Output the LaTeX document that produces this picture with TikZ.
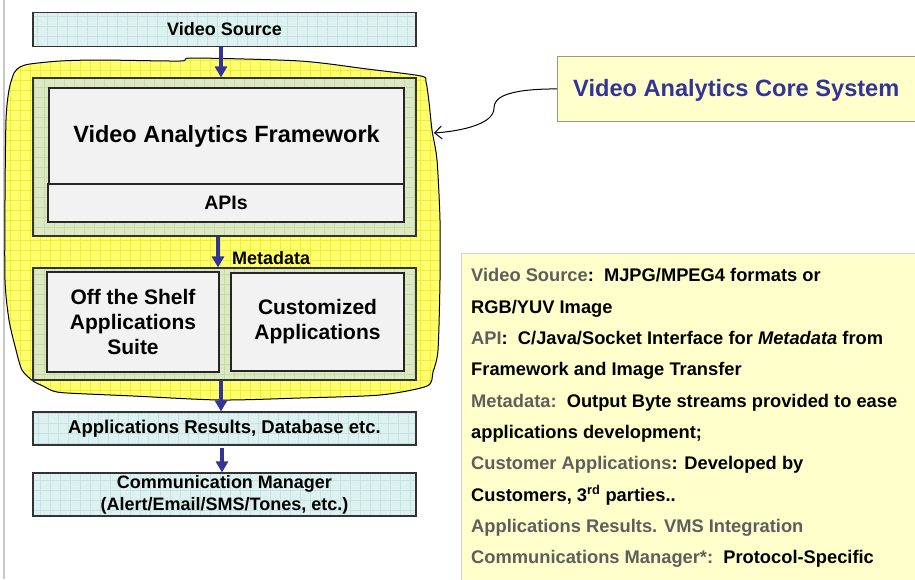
\documentclass[tikz,border=0pt]{standalone}
\usepackage{fontspec}
\setmainfont{Liberation Sans}
\usetikzlibrary{arrows.meta}
\definecolor{arrblue}{HTML}{333399}
\definecolor{blobfill}{HTML}{FFFF6E}
\definecolor{blobgrid}{HTML}{EDED3A}
\definecolor{greenfill}{HTML}{DCE8C4}
\definecolor{greengrid}{HTML}{CADDA0}
\definecolor{cyanfill}{HTML}{DDF1F1}
\definecolor{cyangrid}{HTML}{C6E3E3}
\definecolor{boxgray}{HTML}{F2F2F2}
\definecolor{notefill}{HTML}{FFFFCC}
\definecolor{labgray}{HTML}{5E5E5E}
\tikzset{
  VAblob/.style={insert path={plot[smooth cycle,tension=0.45] coordinates{
    (20,67) (30,64) (60,61) (100,60) (180,61) (193,58) (300,61) (367,69) (421,76)
    (426,82) (429,102) (432,130) (437,160) (440,220) (440,280) (438,350) (433,372)
    (427,386) (380,395) (300,398) (220,400) (133,396) (67,393) (53,391) (43,386)
    (33,381) (22,370) (16,350) (9,320) (5,280) (5,200) (6,120) (9,90) (14,73)}}},
  gridbox/.style 2 args={draw=black!80, line width=1.1pt, fill=#1, inner sep=0pt,
    path picture={\draw[#2, line width=0.5pt, step=10pt]
      (path picture bounding box.south west) grid (path picture bounding box.north east);}},
  cyanbox/.style={gridbox={cyanfill}{cyangrid}},
  greenbox/.style={gridbox={greenfill}{greengrid}},
  graybox/.style={draw=black!85, line width=1.1pt, fill=boxgray, inner sep=0pt, align=center},
  flowarrow/.style={draw=arrblue, line width=3.5pt, -{Triangle[width=12pt,length=11pt]}},
  descline/.style={anchor=base west, inner sep=0pt, font=\fontsize{18.3}{22}\selectfont\bfseries}
}
\begin{document}
\begin{tikzpicture}[x=1pt,y=-1pt]
\useasboundingbox (0,0) rectangle (915,579);
% left margin line
\draw[black!22, line width=2pt] (4,0) -- (4,579);

% yellow core blob
\fill[blobfill, VAblob];
\begin{scope}
  \clip[VAblob];
  \draw[blobgrid, line width=0.5pt, step=10pt] (0,410) grid (450,50);
\end{scope}
\draw[black, line width=1pt, VAblob];
\coordinate (blobpt) at (434,133);

% boxes
\node[cyanbox, minimum width=383pt, minimum height=34pt,
      font=\fontsize{18}{21}\selectfont\bfseries] (vs) at (224.5,29.5) {Video Source};
\node[greenbox, minimum width=383pt, minimum height=158pt] (g1) at (224.5,157) {};
\node[graybox, minimum width=355pt, minimum height=96pt,
      font=\fontsize{23.5}{27}\selectfont\bfseries] (fw) at (226.5,136) {Video Analytics Framework};
\node[graybox, minimum width=356pt, minimum height=38pt,
      font=\fontsize{19.5}{23}\selectfont\bfseries] (apis) at (226,203) {APIs};
\node[greenbox, minimum width=383pt, minimum height=112pt] (g2) at (224.5,324) {};
\node[graybox, minimum width=172pt, minimum height=100pt,
      font=\fontsize{21}{25}\selectfont\bfseries] (ots) at (133,322) {Off the Shelf\\Applications\\Suite};
\node[graybox, minimum width=173pt, minimum height=98pt,
      font=\fontsize{21}{25}\selectfont\bfseries] (cust) at (317.5,322) {Customized\\Applications};
\node[cyanbox, minimum width=383pt, minimum height=33pt,
      font=\fontsize{18.5}{21}\selectfont\bfseries] (ar) at (224.5,428.5) {Applications Results, Database etc.};
\node[cyanbox, minimum width=383pt, minimum height=43pt, align=center,
      font=\fontsize{18}{22}\selectfont\bfseries] (cm) at (224.5,494.5) {Communication Manager\\(Alert/Email/SMS/Tones, etc.)};

% arrows
\draw[flowarrow] ([xshift=-3.5pt]vs.south) -- ([xshift=-3.5pt]g1.north);
\draw[flowarrow] ([xshift=-6.5pt]g1.south) -- ([xshift=-6.5pt]g2.north);
\node[anchor=west, inner sep=0pt, font=\fontsize{18}{21}\selectfont\bfseries] (meta) at (232,258) {Metadata};
\draw[flowarrow] ([xshift=-3.5pt]g2.south) -- ([xshift=-3.5pt]ar.north);
\draw[flowarrow] ([xshift=-2.5pt,yshift=-2pt]ar.south) -- ([xshift=-2.5pt]cm.north);

% core system callout
\node[draw=black!35!notefill!70!gray, line width=0.8pt, fill=notefill, anchor=north west,
      minimum width=362pt, minimum height=65pt, inner sep=0pt] (core) at (557,56) {};
\node[anchor=west, inner sep=0pt, text=arrblue, font=\fontsize{23.6}{27}\selectfont\bfseries] (coret) at (573,90) {Video Analytics Core System};
\draw[black, line width=1pt, -{Straight Barb[length=7pt,width=13pt]}]
  (core.west) .. controls (505,89) and (494,98) .. (494,108)
  .. controls (494,124) and (462,131) .. (blobpt);

% description box
\node[draw=black!18, line width=0.8pt, fill=notefill, anchor=north west,
      minimum width=460pt, minimum height=330pt, inner sep=0pt] (desc) at (461,253) {};
\node[descline] (d1) at (471,281.7) {\textcolor{labgray}{Video Source}:\ \ MJPG/MPEG4 formats or};
\node[descline] (d2) at (471,313.0) {RGB/YUV Image};
\node[descline] (d3) at (471,344.4) {\textcolor{labgray}{API}:\ \ C/Java/Socket Interface for \textit{Metadata} from};
\node[descline] (d4) at (471,375.7) {Framework and Image Transfer};
\node[descline] (d5) at (471,407.1) {\textcolor{labgray}{Metadata:}\ \ Output Byte streams provided to ease};
\node[descline] (d6) at (471,438.4) {applications development;};
\node[descline] (d7) at (471,469.8) {\textcolor{labgray}{Customer Applications}: Developed by};
\node[descline] (d8) at (471,501.1) {Customers, 3\textsuperscript{rd} parties..};
\node[descline] (d9) at (471,532.5) {\textcolor{labgray}{Applications Results. VMS Integration}};
\node[descline] (d10) at (471,563.8) {\textcolor{labgray}{Communications Manager*:}\ \ Protocol-Specific};
\end{tikzpicture}
\end{document}
